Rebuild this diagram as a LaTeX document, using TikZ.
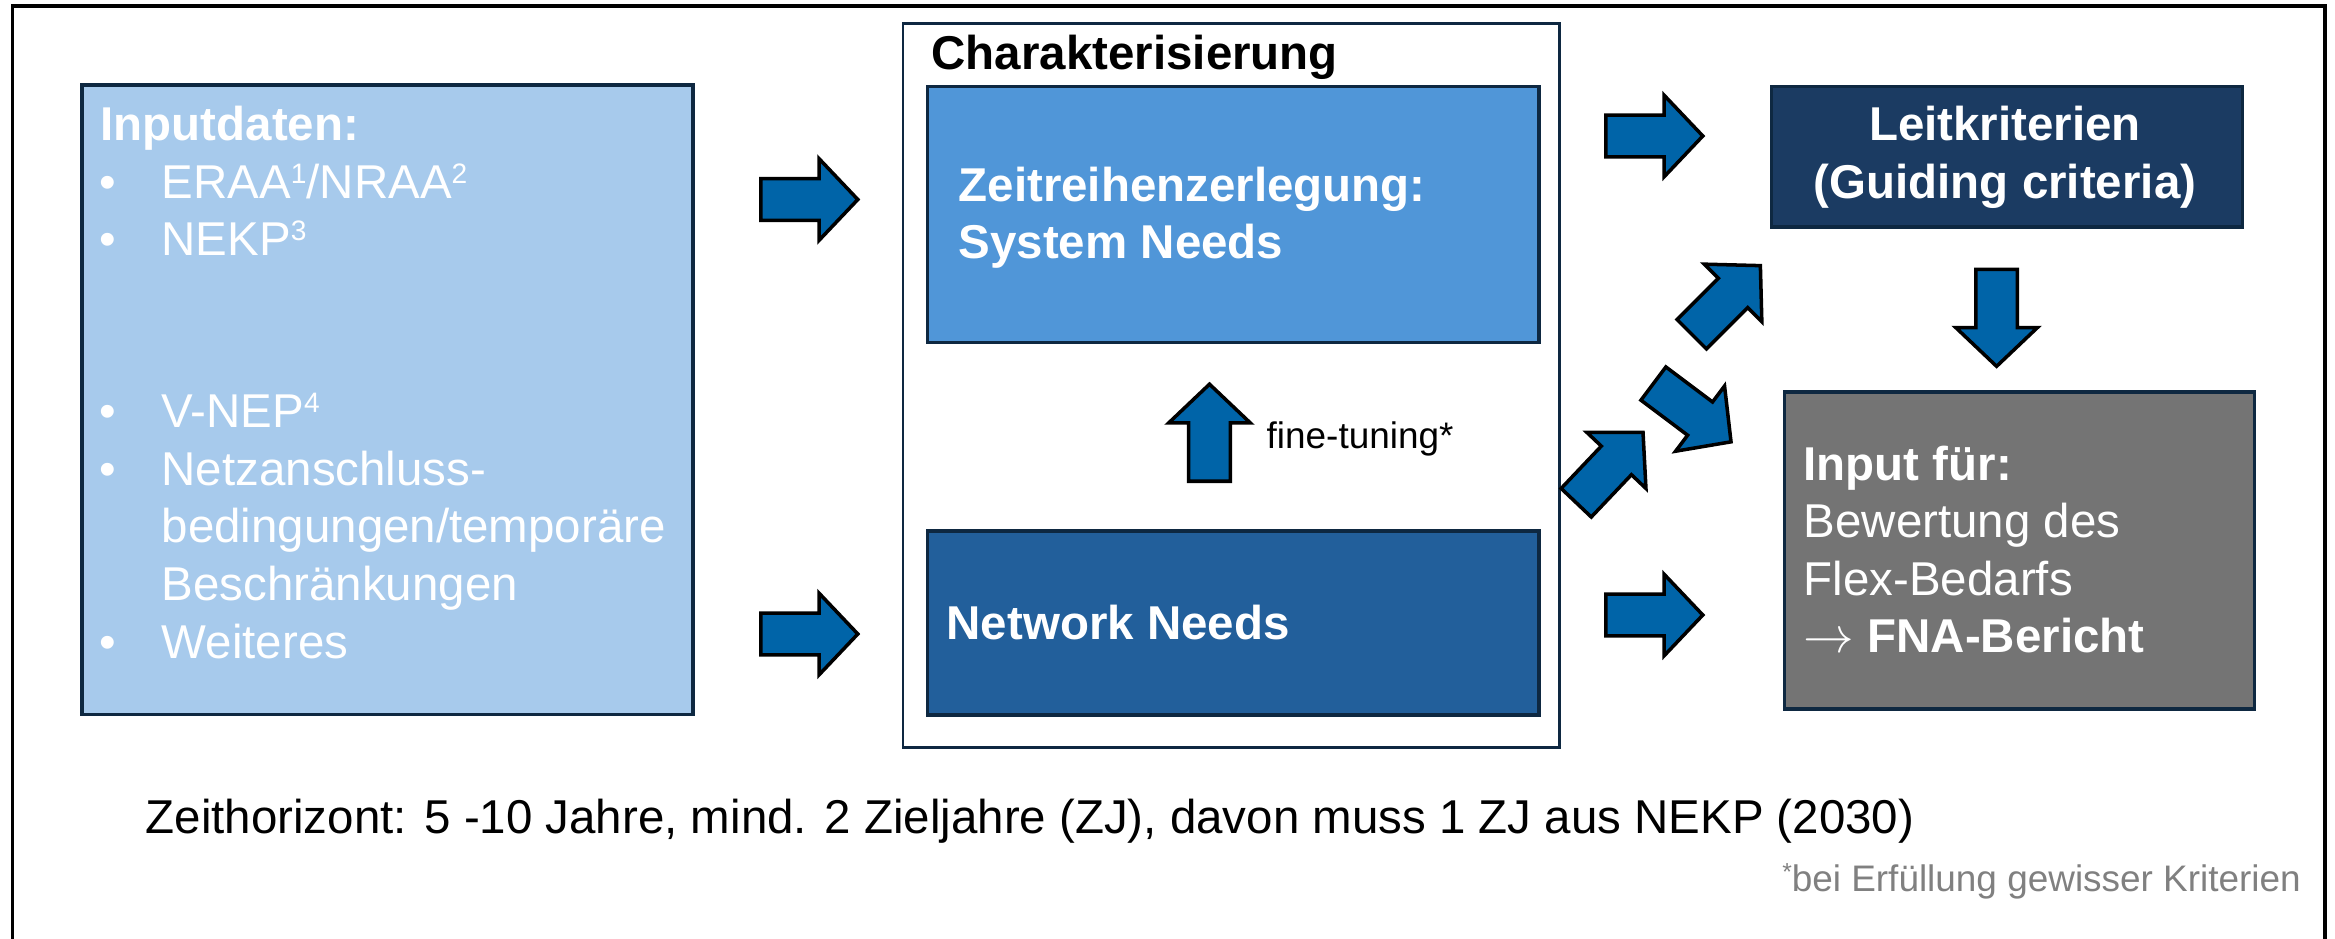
\documentclass[tikz,border=0pt]{standalone}
\usepackage{fontspec}
\setmainfont{Liberation Sans}
\usetikzlibrary{shapes.arrows}
\definecolor{navy}{RGB}{14,40,65}
\definecolor{inblue}{RGB}{167,202,236}
\definecolor{midblue}{RGB}{80,150,216}
\definecolor{netblue}{RGB}{34,95,155}
\definecolor{leitblue}{RGB}{27,59,98}
\definecolor{outgray}{RGB}{116,116,116}
\definecolor{arrblue}{RGB}{0,100,168}
\definecolor{footgray}{RGB}{128,128,128}
\newcommand\supnum[1]{\raisebox{4pt}{\fontsize{8}{8}\selectfont #1}}
\begin{document}
\begin{tikzpicture}[x=0.01cm,y=-0.01cm,
  box/.style={rectangle,draw=navy,line width=1pt,inner sep=0pt,anchor=north west},
  txt/.style={inner sep=0pt,anchor=base west,font=\fontsize{13.5}{16}\selectfont},
  wtxt/.style={txt,text=white},
  btxt/.style={wtxt,font=\fontsize{13.5}{16}\selectfont\bfseries},
  bul/.style={inner sep=0pt,anchor=base,text=white,font=\fontsize{13.5}{16}\selectfont},
  blockarrow/.style={single arrow,draw=black,fill=arrblue,line width=1pt,
    minimum height=0.97cm,single arrow head extend=0.2cm,
    single arrow tip angle=93,single arrow head indent=0pt,
    inner xsep=0pt,inner ysep=0.19cm,anchor=tail}
]
\useasboundingbox (0,0) rectangle (2335,939);
% outer frame
\draw[line width=1pt,line join=miter] (12.3,950) -- (12.3,6) -- (2325,6) -- (2325,950);

% boxes
\node[box,fill=inblue,minimum width=6.11cm,minimum height=6.295cm] (input) at (80,83) {};
\node[box,fill=white,line width=0.85pt,minimum width=6.56cm,minimum height=7.242cm] (charbox) at (901.5,21.8) {};
\node[box,fill=midblue,minimum width=6.115cm,minimum height=2.562cm] (zeit) at (925.5,84.5) {};
\node[box,fill=netblue,minimum width=6.115cm,minimum height=1.84cm] (net) at (925.5,529) {};
\node[box,fill=leitblue,minimum width=4.71cm,minimum height=1.403cm] (leit) at (1769.5,84.7) {};
\node[box,fill=outgray,minimum width=4.70cm,minimum height=3.17cm] (out) at (1782.5,390) {};

% input text
\node[btxt] (inhead) at (100,140) {Inputdaten:};
\node[bul] (b1) at (107.5,198) {•};
\node[bul] (b2) at (107.5,255) {•};
\node[bul] (b3) at (107.5,427) {•};
\node[bul] (b4) at (107.5,485) {•};
\node[bul] (b5) at (107.5,658) {•};
\node[wtxt] (i1) at (161,198) {ERAA\supnum{1}/NRAA\supnum{2}};
\node[wtxt] (i2) at (161,255) {NEKP\supnum{3}};
\node[wtxt] (i3) at (161,427) {V-NEP\supnum{4}};
\node[wtxt] (i4) at (161,485) {Netzanschluss-};
\node[wtxt] (i5) at (161,542) {bedingungen/temporäre};
\node[wtxt] (i6) at (161,600) {Beschränkungen};
\node[wtxt] (i7) at (161,658) {Weiteres};

% characterisation texts
\node[btxt,text=black] (chartitle) at (931,69) {Charakterisierung};
\node[btxt] (z1) at (958,201.5) {Zeitreihenzerlegung:};
\node[btxt] (z2) at (958,258.6) {System Needs};
\node[btxt] (n1) at (946,639) {Network Needs};
\node[txt,font=\fontsize{10.5}{12}\selectfont] (fine) at (1266,448) {fine-tuning*};

% right boxes text
\node[btxt,anchor=base] (l1) at (2005,140) {Leitkriterien};
\node[btxt,anchor=base] (l2) at (2005,198) {(Guiding criteria)};
\node[btxt] (o1) at (1803,480) {Input für:};
\node[wtxt] (o2) at (1803,537) {Bewertung des};
\node[wtxt] (o3) at (1803,595) {Flex-Bedarfs};
\node[wtxt] (o4) at (1803,652.5) {$\rightarrow$ \textbf{FNA-Bericht}};

% bottom texts
\node[txt] (horizon) at (145,833.5) {Zeithorizont: 5 -10 Jahre, mind. 2 Zieljahre (ZJ), davon muss 1 ZJ aus NEKP (2030)};
\node[inner sep=0pt,anchor=base east,text=footgray,font=\fontsize{10.5}{12}\selectfont] (foot) at (2301.5,891)
  {\raisebox{3pt}{\fontsize{7}{7}\selectfont *}bei Erfüllung gewisser Kriterien};

% block arrows
\node[blockarrow] (aIn1) at (759,199.5) {};
\node[blockarrow] (aIn2) at (759,634) {};
\node[blockarrow,rotate=90] (aUp) at (1209.5,483) {};
\node[blockarrow] (aR1) at (1604,136) {};
\node[blockarrow] (aR2) at (1604,615) {};
\node[blockarrow,rotate=45] (aA) at (1690.5,335.5) {};
\node[blockarrow,rotate=-36.9] (aB) at (1652,382.5) {};
\node[blockarrow,rotate=46.5] (aC) at (1575,504) {};
\node[blockarrow,rotate=-90] (aDown) at (1996.6,267.5) {};
\end{tikzpicture}
\end{document}
